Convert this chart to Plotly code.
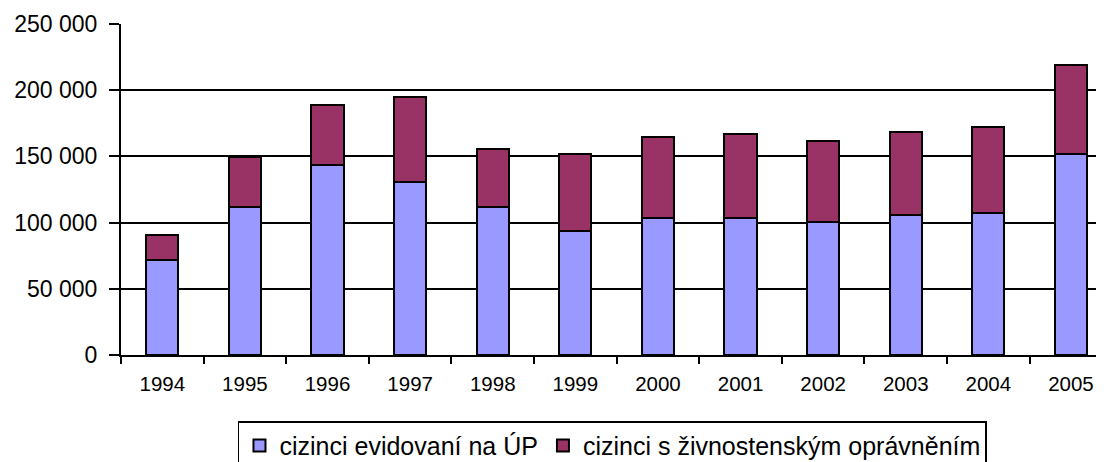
import plotly.graph_objects as go

years = ["1994", "1995", "1996", "1997", "1998", "1999", "2000", "2001", "2002", "2003", "2004", "2005"]
evidovani_up = [71500, 111500, 143500, 131000, 111500, 94000, 103500, 103500, 100700, 106000, 107500, 152000]
zivnostenske = [19500, 37800, 45500, 63600, 44300, 57800, 60900, 63400, 60700, 62400, 64900, 67300]
y_ticks = [0, 50000, 100000, 150000, 200000, 250000]

fig = go.Figure()
fig.add_trace(go.Bar(
    x=years, y=evidovani_up, name="cizinci evidovaní na ÚP",
    marker=dict(color="#9999FF", line=dict(color="#000000", width=2)),
))
fig.add_trace(go.Bar(
    x=years, y=zivnostenske, name="cizinci s živnostenským oprávněním",
    marker=dict(color="#993366", line=dict(color="#000000", width=2)),
))

# page body has an 8px margin, so the figure is drawn 8px smaller and offset
fig.update_layout(
    width=1096, height=454,
    barmode="stack", bargap=0.61,
    separators=", ",
    paper_bgcolor="white", plot_bgcolor="white",
    margin=dict(l=113, r=0, t=16, b=107, autoexpand=False),
    font=dict(family="Liberation Sans, Arial, sans-serif", color="#000000"),
    showlegend=True,
    legend=dict(
        orientation="h", x=0.119, xanchor="left", y=-0.2, yanchor="top",
        bordercolor="#000000", borderwidth=1.5,
        font=dict(size=25, color="#000000"),
        traceorder="normal",
    ),
)
fig.update_xaxes(
    type="category", range=[-0.5, 11.4], automargin=False,
    showline=True, linecolor="#000000", linewidth=2,
    ticks="outside", tickson="boundaries", ticklen=7, tickcolor="#000000", tickwidth=1.5,
    tickfont=dict(size=20.5), showgrid=False, ticklabelstandoff=9,
)
fig.update_yaxes(
    range=[0, 250000], tickvals=y_ticks, tickformat=",", automargin=False,
    showline=True, linecolor="#000000", linewidth=2,
    ticks="outside", ticklen=10, tickcolor="#000000", tickwidth=1.5,
    showgrid=True, gridcolor="#000000", gridwidth=1.5,
    tickfont=dict(size=23), zeroline=False, ticklabelstandoff=7,
)

fig.write_html("out.html")
